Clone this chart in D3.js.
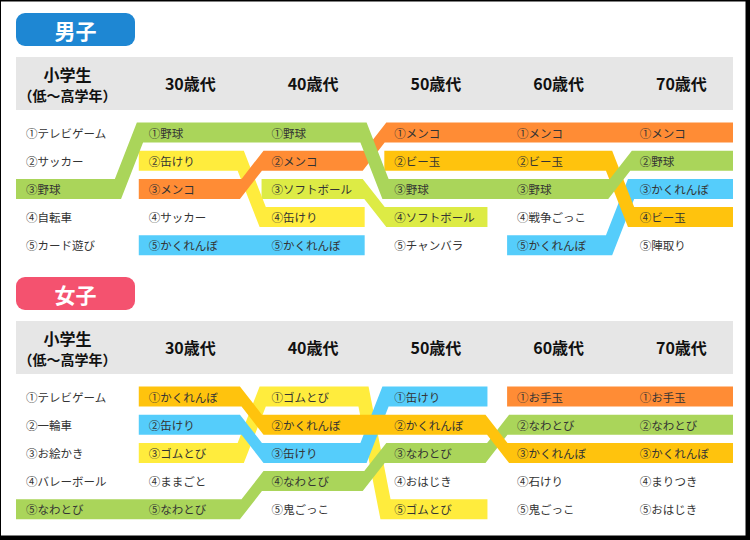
<!DOCTYPE html>
<html><head><meta charset="utf-8">
<script src="https://cdn.jsdelivr.net/npm/d3@7"></script>
<style>body{margin:0;background:#000} svg{display:block}</style>
</head><body><svg id="c" width="750" height="540"></svg>
<script>
// ---- data ----
const columnLabels = [["小学生","（低～高学年）"],["30歳代"],["40歳代"],["50歳代"],["60歳代"],["70歳代"]];
const ranks = [1,2,3,4,5];
const rankMarks = ["①","②","③","④","⑤"];
const sectionTitles = ["男子","女子"];
const boysRanking = [
  ["テレビゲーム","サッカー","野球","自転車","カード遊び"],
  ["野球","缶けり","メンコ","サッカー","かくれんぼ"],
  ["野球","メンコ","ソフトボール","缶けり","かくれんぼ"],
  ["メンコ","ビー玉","野球","ソフトボール","チャンバラ"],
  ["メンコ","ビー玉","野球","戦争ごっこ","かくれんぼ"],
  ["メンコ","野球","かくれんぼ","ビー玉","陣取り"]
];
const girlsRanking = [
  ["テレビゲーム","一輪車","お絵かき","バレーボール","なわとび"],
  ["かくれんぼ","缶けり","ゴムとび","ままごと","なわとび"],
  ["ゴムとび","かくれんぼ","缶けり","なわとび","鬼ごっこ"],
  ["缶けり","かくれんぼ","なわとび","おはじき","ゴムとび"],
  ["お手玉","なわとび","かくれんぼ","石けり","鬼ごっこ"],
  ["お手玉","なわとび","かくれんぼ","まりつき","おはじき"]
];
// tracked (highlighted) games, listed bottom-to-top drawing order
const boysTracked = ["かくれんぼ","ビー玉","ソフトボール","缶けり","メンコ","野球"];
const girlsTracked = ["ゴムとび","缶けり","なわとび","かくれんぼ","お手玉"];

// ---- styles ----
const boysColors = ["#55CDFB","#FFC30D","#DDEB45","#FFEC3D","#FF8C35","#AAD55A"];
const girlsColors = ["#FFEC3D","#55CDFB","#AAD55A","#FFC30D","#FF8C35"];
const pillColors = ["#1E87D3","#F4526F"];
const FONT = "'Noto Sans CJK JP','Noto Sans',sans-serif";

const svg = d3.select("#c");
svg.append("rect").attr("x",1).attr("y",1.5).attr("width",744.5).attr("height",534).attr("fill","#fff");

const x = d3.scaleBand().domain(d3.range(columnLabels.length)).range([16,733]).paddingInner(0.16).paddingOuter(0);
const bw = x.bandwidth();
const y = d3.scalePoint().domain(ranks).range([132.5,245.3]);
const BH = 20, HT = 14, DX = 22;

function runPath(run){
  const top = [], bot = [];
  const f = run[0], l = run[run.length-1];
  top.push([x(f.c), y(f.r)-BH/2]); bot.push([x(f.c), y(f.r)+BH/2]);
  for(let k=0;k<run.length-1;k++){
    const a = run[k], b = run[k+1];
    if(a.r===b.r) continue;
    const E = x(a.c)+bw, S = x(b.c), mid = (E+S)/2;
    const yA = y(a.r), yB = y(b.r);
    const cx = yy => (mid-DX/2) + (yy-yA)*DX/(yB-yA);
    const off = yB>yA ? HT/2 : -HT/2;
    top.push([cx(yA-BH/2)+off, yA-BH/2],[cx(yB-BH/2)+off, yB-BH/2]);
    bot.push([cx(yA+BH/2)-off, yA+BH/2],[cx(yB+BH/2)-off, yB+BH/2]);
  }
  top.push([x(l.c)+bw, y(l.r)-BH/2]); bot.push([x(l.c)+bw, y(l.r)+BH/2]);
  return d3.line()(top.concat(bot.reverse()))+"Z";
}

function drawSection(offset, idx, ranking, tracked, colors){
  const g = svg.append("g").attr("transform",`translate(0,${offset})`);
  const color = d3.scaleOrdinal().domain(tracked).range(colors);
  // title pill
  g.append("rect").attr("x",16).attr("y",13).attr("width",119).attr("height",33).attr("rx",9).attr("fill",pillColors[idx]);
  g.append("text").attr("x",75.5).attr("y",30).attr("text-anchor","middle").attr("dominant-baseline","central")
    .attr("fill","#fff").attr("font-family",FONT).attr("font-weight","bold").attr("font-size",21).text(sectionTitles[idx]);
  // header band
  g.append("rect").attr("x",16).attr("y",57).attr("width",717).attr("height",53).attr("fill","#E6E6E6");
  columnLabels.forEach((lab,c)=>{
    const cxm = x(c)+bw/2;
    if(lab.length===1){
      g.append("text").attr("x",cxm).attr("y",83).attr("text-anchor","middle").attr("dominant-baseline","central")
        .attr("font-family",FONT).attr("font-weight","bold").attr("font-size",16).attr("fill","#111").text(lab[0]);
    } else {
      g.append("text").attr("x",cxm).attr("y",74).attr("text-anchor","middle").attr("dominant-baseline","central")
        .attr("font-family",FONT).attr("font-weight","bold").attr("font-size",16).attr("fill","#111").text(lab[0]);
      g.append("text").attr("x",cxm).attr("y",95).attr("text-anchor","middle").attr("dominant-baseline","central")
        .attr("font-family",FONT).attr("font-weight","bold").attr("font-size",14).attr("fill","#111").text(lab[1]);
    }
  });
  // bands
  tracked.forEach(item=>{
    const pos = ranking.map((col,c)=>({c, r: col.indexOf(item)+1}));
    const runs = []; let cur = [];
    pos.forEach(p=>{ if(p.r>0){cur.push(p);} else { if(cur.length) runs.push(cur); cur=[]; } });
    if(cur.length) runs.push(cur);
    runs.forEach(run=>{
      g.append("path").attr("d",runPath(run)).attr("fill",color(item));
    });
  });
  // labels
  ranking.forEach((col,c)=>{
    col.forEach((name,i)=>{
      g.append("text").attr("x",x(c)+10).attr("y",y(ranks[i])).attr("dominant-baseline","central")
        .attr("font-family",FONT).attr("font-size",11.5).attr("fill","#333").text(rankMarks[i]+name);
    });
  });
}
drawSection(0,0,boysRanking,boysTracked,boysColors);
drawSection(264,1,girlsRanking,girlsTracked,girlsColors);
</script></body></html>
